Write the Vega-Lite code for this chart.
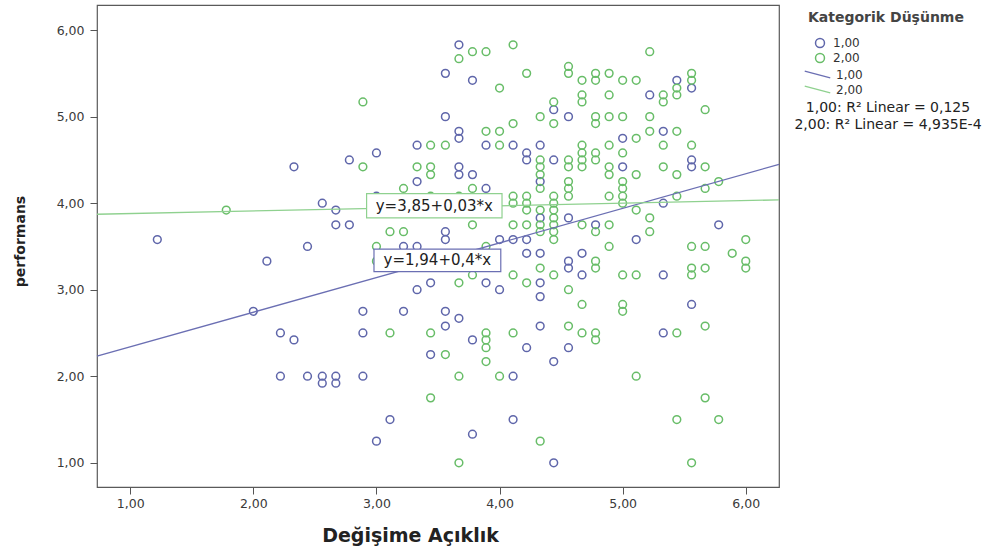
{
  "$schema": "https://vega.github.io/schema/vega-lite/v6.json",
  "width": 682,
  "height": 482,
  "autosize": {"type": "none"},
  "padding": {"left": 97, "top": 5, "right": 221, "bottom": 64},
  "background": "white",
  "config": {
    "view": {"fill": "#f0f0f0", "stroke": "#5a5a5a", "strokeWidth": 1.2},
    "axis": {"domain": false, "grid": false, "tickColor": "#555", "tickSize": 7, "labelFont": "DejaVu Sans", "labelFontSize": 12.5, "labelColor": "#3a3a3a", "titleFont": "DejaVu Sans", "titleColor": "#222", "titleFontWeight": "bold"}
  },
  "datasets": {
    "pts": [
      {"grp":"1,00","x":1.22,"y":3.58},{"grp":"1,00","x":2.0,"y":2.75},{"grp":"1,00","x":2.11,"y":3.33},{"grp":"1,00","x":2.22,"y":2.5},{"grp":"1,00","x":2.33,"y":2.42},{"grp":"1,00","x":2.22,"y":2.0},{"grp":"1,00","x":2.44,"y":2.0},{"grp":"1,00","x":2.56,"y":2.0},{"grp":"1,00","x":2.67,"y":2.0},{"grp":"1,00","x":2.56,"y":1.92},{"grp":"1,00","x":2.67,"y":1.92},{"grp":"1,00","x":2.33,"y":4.42},{"grp":"1,00","x":2.44,"y":3.5},{"grp":"1,00","x":2.56,"y":4.0},{"grp":"1,00","x":2.67,"y":3.92},{"grp":"1,00","x":2.67,"y":3.75},{"grp":"1,00","x":2.78,"y":3.75},{"grp":"1,00","x":2.78,"y":4.5},{"grp":"1,00","x":2.89,"y":2.75},{"grp":"1,00","x":2.89,"y":2.5},{"grp":"1,00","x":2.89,"y":2.0},{"grp":"1,00","x":3.0,"y":4.58},{"grp":"1,00","x":3.0,"y":4.08},{"grp":"1,00","x":3.22,"y":2.75},{"grp":"1,00","x":3.11,"y":1.5},{"grp":"1,00","x":3.0,"y":1.25},
      {"grp":"1,00","x":3.67,"y":5.83},{"grp":"1,00","x":3.56,"y":5.5},{"grp":"1,00","x":3.78,"y":5.42},{"grp":"1,00","x":5.44,"y":5.42},{"grp":"1,00","x":5.56,"y":5.33},{"grp":"1,00","x":5.22,"y":5.25},{"grp":"1,00","x":4.44,"y":5.08},{"grp":"1,00","x":3.56,"y":5.0},{"grp":"1,00","x":4.56,"y":5.0},{"grp":"1,00","x":3.67,"y":4.83},{"grp":"1,00","x":3.67,"y":4.75},{"grp":"1,00","x":5.33,"y":4.83},{"grp":"1,00","x":5.0,"y":4.75},{"grp":"1,00","x":3.33,"y":4.67},{"grp":"1,00","x":3.89,"y":4.67},{"grp":"1,00","x":4.11,"y":4.67},{"grp":"1,00","x":4.33,"y":4.67},{"grp":"1,00","x":4.22,"y":4.58},{"grp":"1,00","x":4.22,"y":4.5},{"grp":"1,00","x":4.44,"y":4.5},{"grp":"1,00","x":5.56,"y":4.5},{"grp":"1,00","x":5.56,"y":4.42},{"grp":"1,00","x":3.67,"y":4.42},{"grp":"1,00","x":5.0,"y":4.42},{"grp":"1,00","x":3.67,"y":4.33},{"grp":"1,00","x":3.78,"y":4.33},{"grp":"1,00","x":3.33,"y":4.25},{"grp":"1,00","x":4.33,"y":4.25},{"grp":"1,00","x":3.89,"y":4.17},{"grp":"1,00","x":3.78,"y":4.0},{"grp":"1,00","x":5.33,"y":4.0},{"grp":"1,00","x":4.56,"y":3.83},{"grp":"1,00","x":4.33,"y":3.83},{"grp":"1,00","x":4.78,"y":3.75},{"grp":"1,00","x":5.78,"y":3.75},{"grp":"1,00","x":3.56,"y":3.67},{"grp":"1,00","x":3.56,"y":3.58},{"grp":"1,00","x":4.0,"y":3.58},{"grp":"1,00","x":4.11,"y":3.58},{"grp":"1,00","x":4.22,"y":3.58},{"grp":"1,00","x":5.11,"y":3.58},{"grp":"1,00","x":3.22,"y":3.5},{"grp":"1,00","x":3.33,"y":3.5},{"grp":"1,00","x":4.22,"y":3.42},{"grp":"1,00","x":4.33,"y":3.42},{"grp":"1,00","x":4.67,"y":3.42},{"grp":"1,00","x":4.56,"y":3.33},{"grp":"1,00","x":4.56,"y":3.25},{"grp":"1,00","x":4.67,"y":3.17},{"grp":"1,00","x":5.33,"y":3.17},{"grp":"1,00","x":3.44,"y":3.08},{"grp":"1,00","x":3.89,"y":3.08},{"grp":"1,00","x":4.33,"y":3.08},{"grp":"1,00","x":3.33,"y":3.0},{"grp":"1,00","x":4.0,"y":3.0},{"grp":"1,00","x":4.33,"y":2.92},{"grp":"1,00","x":5.56,"y":2.83},{"grp":"1,00","x":3.56,"y":2.75},{"grp":"1,00","x":3.67,"y":2.67},{"grp":"1,00","x":3.56,"y":2.58},{"grp":"1,00","x":4.33,"y":2.58},{"grp":"1,00","x":5.33,"y":2.5},{"grp":"1,00","x":3.78,"y":2.42},{"grp":"1,00","x":4.22,"y":2.33},{"grp":"1,00","x":4.56,"y":2.33},{"grp":"1,00","x":3.44,"y":2.25},{"grp":"1,00","x":4.44,"y":2.17},{"grp":"1,00","x":4.11,"y":2.0},{"grp":"1,00","x":4.11,"y":1.5},{"grp":"1,00","x":3.78,"y":1.33},{"grp":"1,00","x":4.44,"y":1.0},
      {"grp":"2,00","x":1.78,"y":3.92},{"grp":"2,00","x":2.89,"y":5.17},{"grp":"2,00","x":2.89,"y":4.42},{"grp":"2,00","x":3.0,"y":3.5},{"grp":"2,00","x":3.0,"y":3.33},{"grp":"2,00","x":3.11,"y":2.5},{"grp":"2,00","x":4.11,"y":5.83},{"grp":"2,00","x":3.78,"y":5.75},{"grp":"2,00","x":3.89,"y":5.75},{"grp":"2,00","x":5.22,"y":5.75},{"grp":"2,00","x":3.67,"y":5.67},{"grp":"2,00","x":4.22,"y":5.5},{"grp":"2,00","x":4.56,"y":5.58},{"grp":"2,00","x":4.56,"y":5.5},{"grp":"2,00","x":4.78,"y":5.5},{"grp":"2,00","x":4.89,"y":5.5},{"grp":"2,00","x":5.56,"y":5.5},{"grp":"2,00","x":4.67,"y":5.42},{"grp":"2,00","x":4.78,"y":5.42},{"grp":"2,00","x":5.0,"y":5.42},{"grp":"2,00","x":5.11,"y":5.42},{"grp":"2,00","x":5.56,"y":5.42},{"grp":"2,00","x":5.44,"y":5.33},{"grp":"2,00","x":4.0,"y":5.33},{"grp":"2,00","x":5.33,"y":5.25},{"grp":"2,00","x":5.44,"y":5.25},{"grp":"2,00","x":4.89,"y":5.25},{"grp":"2,00","x":4.67,"y":5.25},{"grp":"2,00","x":4.67,"y":5.17},{"grp":"2,00","x":5.33,"y":5.17},{"grp":"2,00","x":4.44,"y":5.17},{"grp":"2,00","x":5.67,"y":5.08},{"grp":"2,00","x":4.33,"y":5.0},{"grp":"2,00","x":4.78,"y":5.0},{"grp":"2,00","x":4.89,"y":5.0},{"grp":"2,00","x":5.0,"y":5.0},{"grp":"2,00","x":4.78,"y":4.92},{"grp":"2,00","x":5.22,"y":5.0},{"grp":"2,00","x":4.44,"y":4.92},{"grp":"2,00","x":3.89,"y":4.83},{"grp":"2,00","x":4.0,"y":4.83},{"grp":"2,00","x":4.11,"y":4.92},{"grp":"2,00","x":5.22,"y":4.83},{"grp":"2,00","x":5.44,"y":4.83},{"grp":"2,00","x":5.11,"y":4.75},{"grp":"2,00","x":3.44,"y":4.67},{"grp":"2,00","x":3.56,"y":4.67},{"grp":"2,00","x":4.0,"y":4.67},{"grp":"2,00","x":4.67,"y":4.67},{"grp":"2,00","x":4.89,"y":4.67},{"grp":"2,00","x":5.33,"y":4.67},{"grp":"2,00","x":5.56,"y":4.67},{"grp":"2,00","x":4.33,"y":4.5},{"grp":"2,00","x":4.56,"y":4.5},{"grp":"2,00","x":4.67,"y":4.58},{"grp":"2,00","x":4.67,"y":4.5},{"grp":"2,00","x":4.78,"y":4.58},{"grp":"2,00","x":4.78,"y":4.5},{"grp":"2,00","x":5.0,"y":4.58},{"grp":"2,00","x":5.67,"y":4.42},{"grp":"2,00","x":3.33,"y":4.42},{"grp":"2,00","x":3.44,"y":4.42},{"grp":"2,00","x":4.33,"y":4.42},{"grp":"2,00","x":4.56,"y":4.42},{"grp":"2,00","x":4.67,"y":4.42},{"grp":"2,00","x":4.89,"y":4.42},{"grp":"2,00","x":5.33,"y":4.42},{"grp":"2,00","x":3.44,"y":4.33},{"grp":"2,00","x":4.33,"y":4.33},{"grp":"2,00","x":4.89,"y":4.33},{"grp":"2,00","x":5.11,"y":4.33},{"grp":"2,00","x":5.44,"y":4.33},{"grp":"2,00","x":4.56,"y":4.25},{"grp":"2,00","x":5.0,"y":4.25},{"grp":"2,00","x":5.78,"y":4.25},{"grp":"2,00","x":3.22,"y":4.17},{"grp":"2,00","x":3.78,"y":4.17},{"grp":"2,00","x":4.33,"y":4.17},{"grp":"2,00","x":4.56,"y":4.17},{"grp":"2,00","x":5.0,"y":4.17},{"grp":"2,00","x":5.67,"y":4.17},{"grp":"2,00","x":3.44,"y":4.08},{"grp":"2,00","x":3.67,"y":4.08},{"grp":"2,00","x":4.11,"y":4.08},{"grp":"2,00","x":4.22,"y":4.08},{"grp":"2,00","x":4.44,"y":4.08},{"grp":"2,00","x":4.56,"y":4.08},{"grp":"2,00","x":4.89,"y":4.08},{"grp":"2,00","x":5.0,"y":4.08},{"grp":"2,00","x":5.44,"y":4.08},{"grp":"2,00","x":3.89,"y":4.0},{"grp":"2,00","x":4.11,"y":4.0},{"grp":"2,00","x":4.22,"y":4.0},{"grp":"2,00","x":4.44,"y":4.0},{"grp":"2,00","x":5.0,"y":4.0},{"grp":"2,00","x":4.22,"y":3.92},{"grp":"2,00","x":4.33,"y":3.92},{"grp":"2,00","x":4.44,"y":3.92},{"grp":"2,00","x":5.11,"y":3.92},{"grp":"2,00","x":4.44,"y":3.83},{"grp":"2,00","x":5.22,"y":3.83},{"grp":"2,00","x":4.11,"y":3.75},{"grp":"2,00","x":4.22,"y":3.75},{"grp":"2,00","x":4.33,"y":3.75},{"grp":"2,00","x":4.44,"y":3.75},{"grp":"2,00","x":4.89,"y":3.75},{"grp":"2,00","x":4.67,"y":3.75},{"grp":"2,00","x":3.78,"y":3.75},{"grp":"2,00","x":4.44,"y":3.67},{"grp":"2,00","x":4.33,"y":3.67},{"grp":"2,00","x":4.78,"y":3.67},{"grp":"2,00","x":5.22,"y":3.67},{"grp":"2,00","x":3.11,"y":3.67},{"grp":"2,00","x":3.22,"y":3.67},{"grp":"2,00","x":4.44,"y":3.58},{"grp":"2,00","x":6.0,"y":3.58},{"grp":"2,00","x":3.89,"y":3.5},{"grp":"2,00","x":4.89,"y":3.5},{"grp":"2,00","x":5.56,"y":3.5},{"grp":"2,00","x":5.67,"y":3.5},{"grp":"2,00","x":5.89,"y":3.42},{"grp":"2,00","x":4.78,"y":3.33},{"grp":"2,00","x":6.0,"y":3.33},{"grp":"2,00","x":4.33,"y":3.25},{"grp":"2,00","x":4.78,"y":3.25},{"grp":"2,00","x":5.56,"y":3.25},{"grp":"2,00","x":5.67,"y":3.25},{"grp":"2,00","x":6.0,"y":3.25},{"grp":"2,00","x":3.78,"y":3.17},{"grp":"2,00","x":4.11,"y":3.17},{"grp":"2,00","x":4.44,"y":3.17},{"grp":"2,00","x":5.0,"y":3.17},{"grp":"2,00","x":5.11,"y":3.17},{"grp":"2,00","x":5.56,"y":3.17},{"grp":"2,00","x":3.67,"y":3.08},{"grp":"2,00","x":4.22,"y":3.08},{"grp":"2,00","x":4.56,"y":3.0},{"grp":"2,00","x":4.67,"y":2.83},{"grp":"2,00","x":5.0,"y":2.83},{"grp":"2,00","x":5.0,"y":2.75},{"grp":"2,00","x":4.56,"y":2.58},{"grp":"2,00","x":5.67,"y":2.58},{"grp":"2,00","x":3.44,"y":2.5},{"grp":"2,00","x":3.89,"y":2.5},{"grp":"2,00","x":4.11,"y":2.5},{"grp":"2,00","x":4.67,"y":2.5},{"grp":"2,00","x":4.78,"y":2.5},{"grp":"2,00","x":5.44,"y":2.5},{"grp":"2,00","x":3.89,"y":2.42},{"grp":"2,00","x":4.78,"y":2.42},{"grp":"2,00","x":3.89,"y":2.33},{"grp":"2,00","x":3.56,"y":2.25},{"grp":"2,00","x":3.89,"y":2.17},{"grp":"2,00","x":3.67,"y":2.0},{"grp":"2,00","x":4.0,"y":2.0},{"grp":"2,00","x":5.11,"y":2.0},{"grp":"2,00","x":3.44,"y":1.75},{"grp":"2,00","x":5.67,"y":1.75},{"grp":"2,00","x":5.44,"y":1.5},{"grp":"2,00","x":5.78,"y":1.5},{"grp":"2,00","x":4.33,"y":1.25},{"grp":"2,00","x":3.67,"y":1.0},{"grp":"2,00","x":5.56,"y":1.0}
    ],
    "fit": [
      {"line":"L1","x":0.73,"y":2.232},{"line":"L1","x":6.27,"y":4.448},
      {"line":"L2","x":0.73,"y":3.872},{"line":"L2","x":6.27,"y":4.038}
    ],
    "eq": [
      {"line":"L2","label":"y=3,85+0,03*x","x1":2.92,"x2":4.02,"y1":4.11,"y2":3.83,"tx":3.47,"ty":3.97},
      {"line":"L1","label":"y=1,94+0,4*x","x1":2.98,"x2":4.01,"y1":3.47,"y2":3.21,"tx":3.495,"ty":3.34}
    ],
    "r2": [
      {"r2":"1,00: R² Linear = 0,125"},
      {"r2":"2,00: R² Linear = 4,935E-4"}
    ]
  },
  "layer": [
    {
      "data": {"name": "pts"},
      "mark": {"type": "point", "filled": false, "strokeWidth": 1.5, "size": 60, "opacity": 1},
      "encoding": {
        "x": {"field": "x", "type": "quantitative", "scale": {"domain": [0.73, 6.27], "nice": false, "zero": false},
          "axis": {"values": [1,2,3,4,5,6], "labelExpr": "replace(format(datum.value, '.2f'), '.', ',')", "labelPadding": 3, "title": "Değişime Açıklık", "titleFontSize": 19, "titleX": 313, "titleY": 54, "titleAlign": "center", "titleBaseline": "alphabetic"}},
        "y": {"field": "y", "type": "quantitative", "scale": {"domain": [0.72, 6.29], "nice": false, "zero": false},
          "axis": {"values": [1,2,3,4,5,6], "labelExpr": "replace(format(datum.value, '.2f'), '.', ',')", "labelPadding": 6, "title": "performans", "titleFontSize": 14, "titleX": -77, "titleY": 236, "titleAngle": 270, "titleAlign": "center", "titleBaseline": "middle"}},
        "color": {"field": "grp", "type": "nominal", "scale": {"domain": ["1,00","2,00"], "range": ["#5f66aa","#68bd68"]},
          "legend": {"title": "Kategorik Düşünme", "orient": "none", "legendX": 711, "legendY": 6, "titleFont": "DejaVu Sans", "titleFontSize": 14, "titleFontWeight": "bold", "titleColor": "#444", "titlePadding": 12, "labelFont": "DejaVu Sans", "labelFontSize": 12, "labelColor": "#333", "symbolType": "circle", "symbolSize": 80, "symbolStrokeWidth": 1.5, "symbolOffset": 6, "rowPadding": -1, "labelOffset": 7}}
      }
    },
    {
      "data": {"name": "fit"},
      "mark": {"type": "line", "strokeWidth": 1.3},
      "encoding": {
        "x": {"field": "x", "type": "quantitative"},
        "y": {"field": "y", "type": "quantitative"},
        "stroke": {"field": "line", "type": "nominal", "scale": {"domain": ["L1","L2"], "range": ["#6b6fb3","#8fd18f"]},
          "legend": {"title": null, "orient": "none", "legendX": 712, "legendY": 61, "labelExpr": "datum.label == 'L1' ? '1,00' : '2,00'", "labelFont": "DejaVu Sans", "labelFontSize": 12, "labelColor": "#333", "symbolType": "M-1.7,-0.45L1.7,0.45", "symbolSize": 225, "symbolStrokeWidth": 1.3, "symbolOffset": 0, "rowPadding": 0, "labelOffset": 10}}
      }
    },
    {
      "data": {"name": "eq"},
      "mark": {"type": "rect", "fill": "white", "strokeWidth": 1.2},
      "encoding": {
        "x": {"field": "x1", "type": "quantitative"},
        "x2": {"field": "x2"},
        "y": {"field": "y1", "type": "quantitative"},
        "y2": {"field": "y2"},
        "stroke": {"field": "line", "type": "nominal"}
      }
    },
    {
      "data": {"name": "eq"},
      "mark": {"type": "text", "font": "DejaVu Sans", "fontSize": 15, "color": "#222", "align": "center", "baseline": "middle"},
      "encoding": {
        "x": {"field": "tx", "type": "quantitative"},
        "y": {"field": "ty", "type": "quantitative"},
        "text": {"field": "label", "type": "nominal"}
      }
    },
    {
      "data": {"name": "r2"},
      "mark": {"type": "point", "opacity": 0},
      "encoding": {
        "shape": {"field": "r2", "type": "nominal", "scale": {"range": ["circle","circle"]},
          "legend": {"title": null, "orient": "none", "legendX": 777, "legendY": 96, "labelFont": "DejaVu Sans", "labelFontSize": 14, "labelColor": "#222", "labelAlign": "center", "labelOffset": 0, "symbolSize": 1, "symbolOpacity": 0, "symbolStrokeWidth": 0, "rowPadding": 3, "labelLimit": 400}}
      }
    }
  ]
}
